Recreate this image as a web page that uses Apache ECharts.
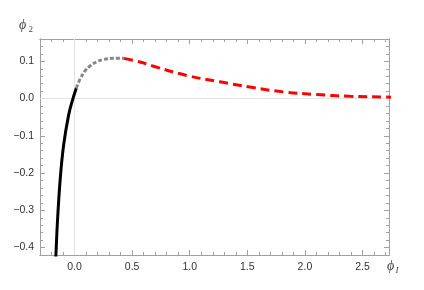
<!DOCTYPE html>
<html><head><meta charset="utf-8">
<script src="https://cdn.jsdelivr.net/npm/echarts@6/dist/echarts.min.js"></script>
<style>html,body{margin:0;padding:0;background:#fff}#c{width:424px;height:290px}</style>
</head><body><div id="c"></div>
<script>
// Data
const blackX = [-0.170, -0.162, -0.147, -0.124, -0.095, -0.052, -0.014, 0.015];
const blackY = [-0.47, -0.42, -0.322, -0.214, -0.125, -0.045, 0.0, 0.028];
const grayX = [0.015, 0.049, 0.093, 0.136, 0.194, 0.251, 0.338, 0.430];
const grayY = [0.028, 0.053, 0.075, 0.088, 0.099, 0.105, 0.108, 0.108];
const redX = [0.430, 0.530, 0.627, 0.685, 0.974, 1.263, 1.52, 1.81, 2.10, 2.39, 2.71, 2.76];
const redY = [0.108, 0.101, 0.093, 0.087, 0.062, 0.045, 0.031, 0.018, 0.011, 0.006, 0.004, 0.0035];
const xMajor = [0, 0.5, 1.0, 1.5, 2.0, 2.5];
const xMinor = [-0.2, -0.1, 0.1, 0.2, 0.3, 0.4, 0.6, 0.7, 0.8, 0.9, 1.1, 1.2, 1.3, 1.4, 1.6, 1.7, 1.8, 1.9, 2.1, 2.2, 2.3, 2.4, 2.6, 2.7];
const yMajor = [-0.4, -0.3, -0.2, -0.1, 0.0, 0.1];
const yMinor = [-0.38, -0.36, -0.34, -0.32, -0.28, -0.26, -0.24, -0.22, -0.18, -0.16, -0.14, -0.12, -0.08, -0.06, -0.04, -0.02, 0.02, 0.04, 0.06, 0.08, 0.12, 0.14];

const X_MIN = -0.3, X_MAX = 2.73, Y_MIN = -0.42, Y_MAX = 0.16;
const zip = (a, b) => a.map((v, i) => [v, b[i]]);
const frame = '#a0a0a0';
const fmt = v => v.toFixed(1).replace('-', '\u2212');

function xAx(pos, vals, len, labels) {
  return {
    type: 'value', position: pos, min: X_MIN, max: X_MAX,
    axisLine: { show: true, onZero: false, lineStyle: { color: frame, width: 1 } },
    axisTick: { show: true, inside: true, length: len, customValues: vals, lineStyle: { color: frame } },
    axisLabel: { show: labels, customValues: vals, formatter: fmt, color: '#333', fontSize: 10.5, fontFamily: 'Liberation Sans', margin: 7 },
    splitLine: { show: false }
  };
}
function yAx(pos, vals, len, labels) {
  return {
    type: 'value', position: pos, min: Y_MIN, max: Y_MAX,
    axisLine: { show: true, onZero: false, lineStyle: { color: frame, width: 1 } },
    axisTick: { show: true, inside: true, length: len, customValues: vals, lineStyle: { color: frame } },
    axisLabel: { show: labels, customValues: vals, formatter: fmt, color: '#333', fontSize: 10.5, fontFamily: 'Liberation Sans', margin: 6 },
    splitLine: { show: false }
  };
}

const chart = echarts.init(document.getElementById('c'), null, { renderer: 'canvas' });
chart.setOption({
  animation: false,
  backgroundColor: '#fff',
  grid: { left: 40, right: 35, top: 39, bottom: 35 },
  xAxis: [xAx('bottom', xMajor, 5, true), xAx('bottom', xMinor, 3, false), xAx('top', xMajor, 5, false), xAx('top', xMinor, 3, false)],
  yAxis: [yAx('left', yMajor, 5, true), yAx('left', yMinor, 3, false), yAx('right', yMajor, 5, false), yAx('right', yMinor, 3, false)],
  graphic: [
    { type: 'text', left: 19, top: 18, style: { text: '\u03D5', font: 'italic 14px "Liberation Serif"', fill: '#444' } },
    { type: 'text', left: 28.5, top: 25, style: { text: '2', font: '9px "Liberation Serif"', fill: '#444' } },
    { type: 'text', left: 387, top: 259, style: { text: '\u03D5', font: 'italic 14px "Liberation Serif"', fill: '#444' } },
    { type: 'text', left: 395.5, top: 266, style: { text: 'I', font: 'italic 9px "Liberation Serif"', fill: '#444' } }
  ],
  series: [
    { type: 'line', data: [[0, Y_MIN], [0, Y_MAX]], showSymbol: false, silent: true,
      lineStyle: { color: '#e2e2e2', width: 1 }, z: 1 },
    { type: 'line', data: [[X_MIN, 0], [X_MAX, 0]], showSymbol: false, silent: true,
      lineStyle: { color: '#e2e2e2', width: 1 }, z: 1 },
    { type: 'line', data: zip(blackX, blackY), smooth: 0.4, showSymbol: false, clip: true,
      lineStyle: { color: '#000', width: 3 }, z: 3 },
    { type: 'line', data: zip(grayX, grayY), smooth: 0.4, showSymbol: false, clip: true,
      lineStyle: { color: '#888', width: 3, type: [4, 2] }, z: 3 },
    { type: 'line', data: zip(redX, redY), smooth: 0.4, showSymbol: false, clip: true,
      lineStyle: { color: '#ff0000', width: 3, type: [9, 5] }, z: 3 }
  ]
});
</script></body></html>
